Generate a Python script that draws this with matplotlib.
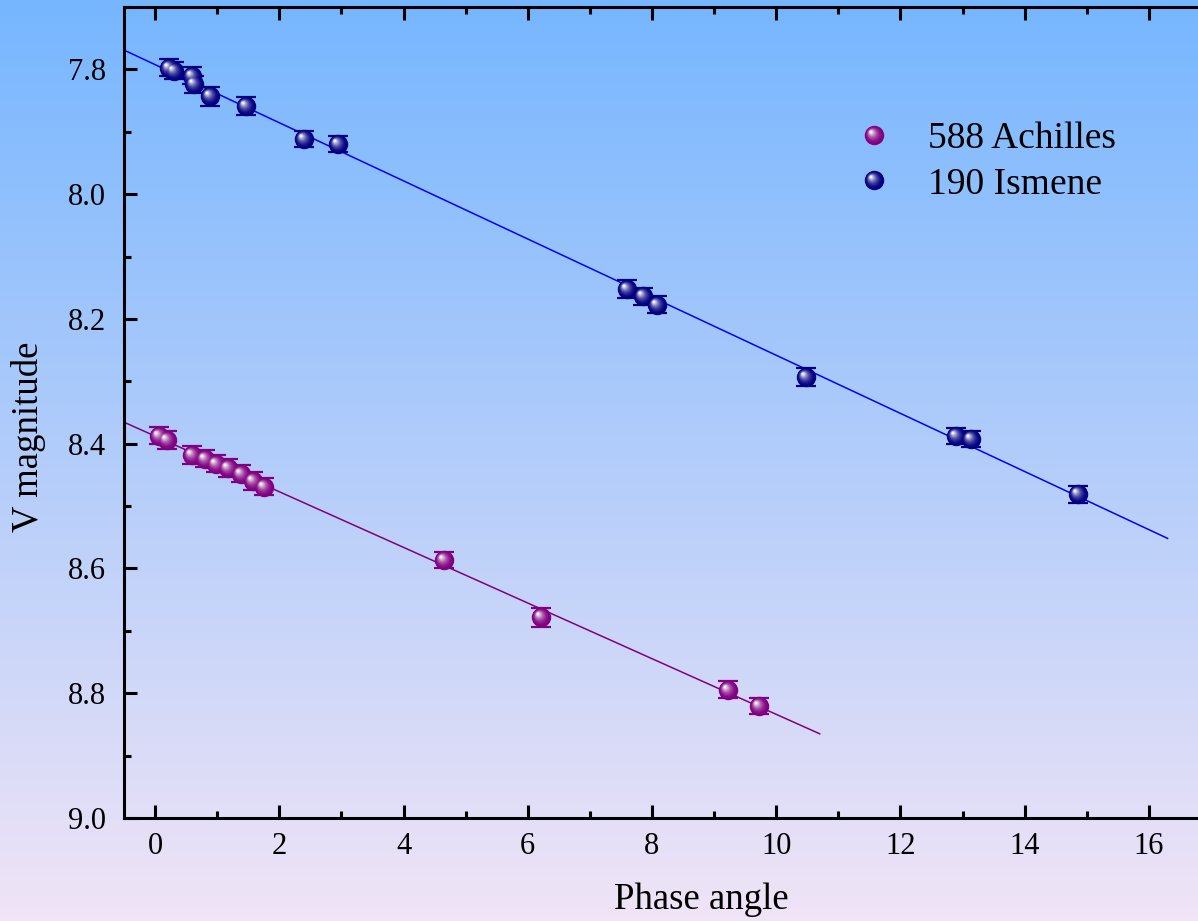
import numpy as np
import matplotlib.pyplot as plt
import matplotlib.colors as mcolors
from matplotlib.path import Path
from matplotlib.lines import Line2D
from matplotlib.legend_handler import HandlerTuple
from matplotlib.ticker import MultipleLocator, FormatStrFormatter

plt.rcParams['font.family'] = ['Liberation Serif', 'DejaVu Serif']

#### Data
ach_phase = [0.06, 0.20, 0.60, 0.80, 0.98, 1.18, 1.38, 1.57, 1.76, 4.65, 6.22, 9.22, 9.72]
ach_mag = [8.387, 8.394, 8.418, 8.424, 8.432, 8.439, 8.448, 8.460, 8.469, 8.587, 8.678, 8.794, 8.821]
ach_err = [0.014, 0.014, 0.014, 0.014, 0.014, 0.014, 0.014, 0.014, 0.014, 0.013, 0.015, 0.013, 0.013]

ism_phase = [0.22, 0.30, 0.60, 0.62, 0.88, 1.46, 2.39, 2.94, 7.59, 7.85, 8.08, 10.48, 12.89, 13.13, 14.86]
ism_mag = [7.797, 7.802, 7.810, 7.824, 7.843, 7.859, 7.911, 7.919, 8.152, 8.164, 8.177, 8.293, 8.388, 8.392, 8.481]
ism_err = [0.014, 0.014, 0.014, 0.014, 0.015, 0.014, 0.013, 0.013, 0.014, 0.014, 0.014, 0.014, 0.013, 0.013, 0.014]

ach_fit_range = [-0.5, 10.7]
ism_fit_range = [-0.5, 16.3]

labels = ['588 Achilles', '190 Ismene']
point_colors = ['#800080', '#000080']
line_colors = ['#800080', '#0000ff']


#### Shaded sphere marker: stacked offset circles getting lighter toward a highlight
def sphere_styles(color, diam):
    base = np.array(mcolors.to_rgb(color))
    styles = [dict(marker='o', markersize=diam, color=base)]
    n = 9
    hx, hy = -0.36, 0.36
    for k in range(1, n + 1):
        t = k / n
        r = 1.0 - 0.86 * t
        cx, cy = hx * t, hy * t
        verts = Path.unit_circle().vertices * r + [cx, cy]
        path = Path(verts, Path.unit_circle().codes)
        scale = np.abs(verts).max()
        mix = 0.95 * t ** 2.0
        col = base * (1 - mix) + np.ones(3) * mix
        styles.append(dict(marker=path, markersize=diam * scale, color=col))
    return styles


fig = plt.figure(figsize=(11.98, 9.21), dpi=100)

#### Gradient background over whole figure
bg = fig.add_axes([0, 0, 1, 1], zorder=-10)
top_col = np.array(mcolors.to_rgb('#76b6ff'))
bot_col = np.array(mcolors.to_rgb('#f0e4f6'))
tt = np.linspace(0, 1, 256)[:, None]
grad = top_col[None, :] * (1 - tt) + bot_col[None, :] * tt
bg.imshow(grad[:, None, :], aspect='auto', extent=[0, 1, 0, 1])
bg.axis('off')

ax = fig.add_axes([0.1035, 0.1118, 0.9074, 0.8806])
ax.set_facecolor('none')

series = [(ach_phase, ach_mag, ach_err, ach_fit_range),
          (ism_phase, ism_mag, ism_err, ism_fit_range)]

handles = []
for (xs, ys, es, fr), lab, pc, lc in zip(series, labels, point_colors, line_colors):
    coef = np.polyfit(xs, ys, 1)
    fx = np.array(fr)
    ax.plot(fx, np.polyval(coef, fx), color=lc, lw=1.1, zorder=2)
    ax.errorbar(xs, ys, yerr=es, fmt='none', ecolor=pc, elinewidth=1.2,
                capsize=7, capthick=1.6, zorder=3)
    hs = []
    for i, st in enumerate(sphere_styles(pc, 14)):
        ax.plot(xs, ys, linestyle='none', markeredgewidth=0, zorder=4 + i * 0.01,
                marker=st['marker'], markersize=st['markersize'], markerfacecolor=st['color'])
        hs.append(Line2D([], [], linestyle='none', markeredgewidth=0,
                         marker=st['marker'], markersize=st['markersize'],
                         markerfacecolor=st['color']))
    handles.append(tuple(hs))

ax.set_xlim(-0.5, 17)
ax.set_ylim(9.0, 7.7)
ax.xaxis.set_major_locator(MultipleLocator(2))
ax.xaxis.set_minor_locator(MultipleLocator(1))
ax.yaxis.set_major_locator(MultipleLocator(0.2))
ax.yaxis.set_minor_locator(MultipleLocator(0.1))
ax.yaxis.set_major_formatter(FormatStrFormatter('%.1f'))

ax.tick_params(which='both', direction='in', top=True, right=True, width=2.2, labelsize=22)
ax.tick_params(which='major', length=9.5)
ax.tick_params(which='minor', length=5)
ax.tick_params(axis='y', pad=13)
ax.tick_params(axis='x', pad=10)
for sp in ax.spines.values():
    sp.set_linewidth(2.2)

ax.set_xlabel('Phase angle', fontsize=26.5)
ax.set_ylabel('V magnitude', fontsize=26.5)
ax.xaxis.set_label_coords(0.531, -0.101)
ax.xaxis.label.set_va('center')
ax.yaxis.set_label_coords(-0.088, 0.470)
ax.yaxis.label.set_va('center')

ax.legend(handles, labels, handler_map={tuple: HandlerTuple(ndivide=1, pad=0)},
          loc='upper left', bbox_to_anchor=(0.673, 0.859), frameon=False,
          fontsize=27, handlelength=1.0, handletextpad=0.92, borderpad=0,
          borderaxespad=0, labelspacing=0.3)

fig.savefig('out.png', dpi=100)
